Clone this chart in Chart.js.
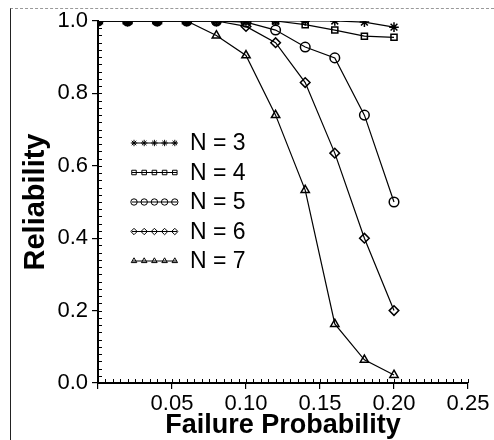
<!DOCTYPE html>
<html><head><meta charset="utf-8">
<script src="https://cdn.jsdelivr.net/npm/chart.js@4.4.1/dist/chart.umd.min.js"></script>
<style>
html,body{margin:0;padding:0;background:#fff;}
#wrap{position:relative;width:494px;height:440px;overflow:hidden;}
#frame{position:absolute;left:10px;top:8px;width:484px;height:432px;border-left:1px solid #222;border-top:1px dashed #999;box-sizing:border-box;}
canvas{position:absolute;left:0;top:0;}
</style></head><body>
<div id="wrap"><div id="frame"></div><canvas id="c" width="494" height="440"></canvas></div>
<script>
// Data
const failureProb = [0, 0.02, 0.04, 0.06, 0.08, 0.10, 0.12, 0.14, 0.16, 0.18, 0.20];
const seriesLabels = ['N = 3', 'N = 4', 'N = 5', 'N = 6', 'N = 7'];
const relN3 = [1, 1, 1, 1, 1, 1, 1, 1, 1, 0.997, 0.983];
const relN4 = [1, 1, 1, 1, 1, 1, 1, 0.99, 0.975, 0.958, 0.955];
const relN5 = [1, 1, 1, 1, 1, 0.997, 0.975, 0.928, 0.898, 0.74, 0.50];
const relN6 = [1, 1, 1, 1, 1, 0.985, 0.94, 0.83, 0.635, 0.40, 0.20];
const relN7 = [1, 1, 1, 1, 0.96, 0.905, 0.74, 0.533, 0.163, 0.064, 0.022];
const xTickValues = [0.05, 0.10, 0.15, 0.20, 0.25];
const yTickValues = [0.0, 0.2, 0.4, 0.6, 0.8, 1.0];

const FONT = '"Liberation Sans", Arial, sans-serif';
const styles = ['star', 'rect', 'circle', 'rectRot', 'triangle'];
const allSeries = [relN3, relN4, relN5, relN6, relN7];

const datasets = allSeries.map((vals, i) => ({
  label: seriesLabels[i],
  data: failureProb.map((x, j) => ({x: x, y: vals[j]})),
  borderColor: '#000',
  borderWidth: 1.2,
  backgroundColor: 'rgba(0,0,0,0)',
  pointStyle: styles[i],
  pointRadius: styles[i] === 'rect' ? 4.3 : 4.8,
  pointBorderWidth: 1.5,
  pointBorderColor: '#000',
  pointBackgroundColor: 'rgba(0,0,0,0)',
  tension: 0,
  fill: false
}));

const minorTicks = {
  id: 'minorTicks',
  afterDraw(chart) {
    const {ctx, scales: {x, y}} = chart;
    ctx.save();
    ctx.strokeStyle = '#000';
    ctx.lineWidth = 1;
    ctx.beginPath();
    for (let i = 0; i <= 50; i++) {
      const px = Math.round(x.getPixelForValue(i * 0.005)) + 0.5;
      ctx.moveTo(px, y.bottom);
      ctx.lineTo(px, y.bottom - 4);
    }
    for (let i = 0; i <= 50; i++) {
      const py = Math.round(y.getPixelForValue(i * 0.02)) + 0.5;
      ctx.moveTo(x.left, py);
      ctx.lineTo(x.left + 4, py);
    }
    ctx.stroke();
    ctx.restore();
  }
};

const insideLegend = {
  id: 'insideLegend',
  afterDraw(chart) {
    const ctx = chart.ctx, ca = chart.chartArea;
    ctx.save();
    chart.data.datasets.forEach((ds, i) => {
      const yy = ca.top + 122 + i * 29.5;
      const x0 = ca.left + 34, x1 = ca.left + 79;
      ctx.strokeStyle = '#000';
      ctx.fillStyle = 'rgba(0,0,0,0)';
      ctx.lineWidth = 1;
      ctx.beginPath();
      ctx.moveTo(x0, yy); ctx.lineTo(x1, yy);
      ctx.stroke();
      for (let k = 0; k < 5; k++) {
        Chart.helpers.drawPoint(ctx, {pointStyle: ds.pointStyle, radius: 3.2, borderWidth: 1.1, rotation: 0}, x0 + 2 + k * 10.2, yy);
      }
      ctx.fillStyle = '#000';
      ctx.font = '23px ' + FONT;
      ctx.textAlign = 'left';
      ctx.textBaseline = 'middle';
      ctx.fillText(ds.label, ca.left + 92, yy + 1);
    });
    ctx.restore();
  }
};

new Chart(document.getElementById('c'), {
  type: 'line',
  data: {datasets},
  options: {
    responsive: false,
    animation: false,
    devicePixelRatio: 1,
    layout: {padding: {left: 12, top: 21, right: 26, bottom: 0}},
    plugins: {legend: {display: false}, tooltip: {enabled: false}},
    scales: {
      x: {
        type: 'linear', min: 0, max: 0.25,
        afterFit(s) { s.height = 57; },
        afterBuildTicks(s) { s.ticks = [{value: 0}].concat(xTickValues.map(v => ({value: v}))); },
        ticks: {
          color: '#000', padding: 2, maxRotation: 0, autoSkip: false,
          font: {family: FONT, size: 22},
          callback: (v) => v === 0 ? '' : Number(v).toFixed(2)
        },
        grid: {drawOnChartArea: false, drawTicks: true, tickLength: 6, color: '#000', lineWidth: 1.2},
        border: {display: true, color: '#000', width: 2},
        title: {display: true, text: 'Failure Probability', color: '#000', padding: {top: 0, bottom: 0},
          font: {family: FONT, size: 27, weight: 'bold', lineHeight: 1.1}}
      },
      y: {
        type: 'linear', min: 0, max: 1,
        afterFit(s) { s.width = 86; },
        afterBuildTicks(s) { s.ticks = yTickValues.map(v => ({value: v})); },
        ticks: {
          color: '#000', padding: 4, autoSkip: false,
          font: {family: FONT, size: 22},
          callback: (v) => Number(v).toFixed(1)
        },
        grid: {drawOnChartArea: false, drawTicks: true, tickLength: 6, color: '#000', lineWidth: 1.2},
        border: {display: true, color: '#000', width: 2},
        title: {display: true, text: 'Reliability', color: '#000', padding: {top: 8, bottom: 0},
          font: {family: FONT, size: 29, weight: 'bold', lineHeight: 1.1}}
      }
    }
  },
  plugins: [minorTicks, insideLegend]
});
</script>
</body></html>
